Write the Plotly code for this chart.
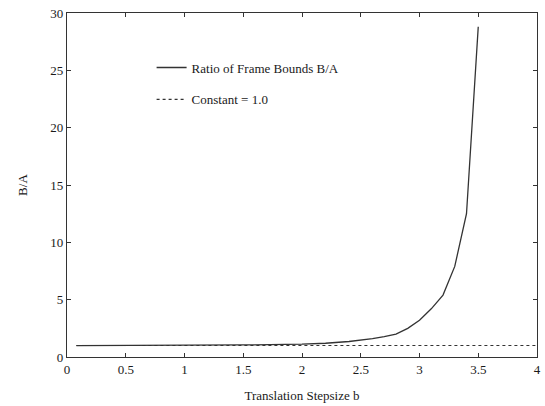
import plotly.graph_objects as go

b_vals = [0.08, 0.5, 1.0, 1.5, 2.0, 2.2, 2.4, 2.5, 2.6, 2.7, 2.8, 2.9, 3.0, 3.1, 3.2, 3.3, 3.4, 3.5]
ratio_vals = [1.0, 1.0, 1.0, 1.05, 1.12, 1.2, 1.35, 1.45, 1.6, 1.78, 2.0, 2.5, 3.2, 4.2, 5.4, 7.9, 12.5, 28.8]
const_x = [0.08, 4.0]
const_y = [1.0, 1.0]
x_ticks = [0, 0.5, 1, 1.5, 2, 2.5, 3, 3.5, 4]
x_tick_text = ["0", "0.5", "1", "1.5", "2", "2.5", "3", "3.5", "4"]
y_ticks = [0, 5, 10, 15, 20, 25, 30]

font_family = "Liberation Serif"

fig = go.Figure()
fig.add_trace(go.Scatter(x=b_vals, y=ratio_vals, mode="lines",
                         name="Ratio of Frame Bounds B/A", legendgroup="a",
                         line=dict(color="#333333", width=1.3)))
fig.add_trace(go.Scatter(x=const_x, y=const_y, mode="lines",
                         name="Constant = 1.0", legendgroup="b",
                         line=dict(color="#333333", width=1.1, dash="dot")))

axis_common = dict(showline=True, linecolor="#333333", linewidth=1.2, mirror="ticks",
                   ticks="inside", ticklen=4, tickcolor="#333333", showgrid=False,
                   zeroline=False, ticklabeloverflow="allow", automargin=False,
                   tickfont=dict(family=font_family, size=13, color="#1a1a1a"))

fig.update_layout(
    width=545, height=406,
    margin=dict(l=67, r=8, t=13, b=49),
    paper_bgcolor="white", plot_bgcolor="white",
    font=dict(family=font_family, color="#1a1a1a"),
    xaxis=dict(range=[0, 4], tickvals=x_ticks, ticktext=x_tick_text,
               title=dict(text="Translation Stepsize b", font=dict(family=font_family, size=13)),
               **axis_common),
    yaxis=dict(range=[0, 30], tickvals=y_ticks, **axis_common),
    annotations=[dict(text="B/A", textangle=-90, xref="paper", yref="paper",
                      x=-0.096, y=0.5, xanchor="center", yanchor="middle", showarrow=False,
                      font=dict(family=font_family, size=13, color="#1a1a1a"))],
    legend=dict(x=0.18, y=0.885, xanchor="left", yanchor="top", bgcolor="rgba(0,0,0,0)",
                borderwidth=0, font=dict(family=font_family, size=13, color="#1a1a1a"),
                itemwidth=30, tracegroupgap=12, traceorder="grouped"),
)

fig.write_html("out.html", config={"displayModeBar": False},
               post_script="document.body.style.margin='0px';document.body.style.overflow='hidden';")
